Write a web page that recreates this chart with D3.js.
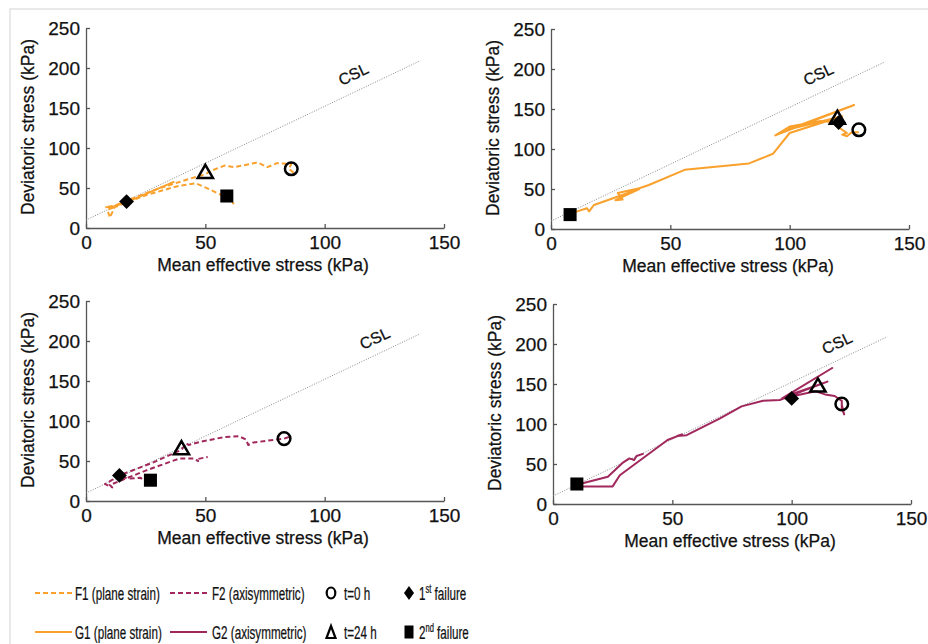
<!DOCTYPE html>
<html>
<head>
<meta charset="utf-8">
<script src="https://cdn.jsdelivr.net/npm/d3@7"></script>
<style>
  body { margin: 0; background: #fff; }
  svg text { font-family: "Liberation Sans", Arial, Helvetica, sans-serif; fill: #111; stroke: #111; stroke-width: 0.25px; }
</style>
</head>
<body>
<div id="chart"></div>
<script>
// ---- data (p' = mean effective stress, q = deviatoric stress, kPa) ----
const xTicks = [0, 50, 100, 150];
const yTicks = [0, 50, 100, 150, 200, 250];
const xTitle = "Mean effective stress (kPa)";
const yTitle = "Deviatoric stress (kPa)";

// critical state line end points
const cslLine = [[0, 10], [140, 209]];
// where the "CSL" label sits in each panel
const cslLabelPos = [[113, 186], [113, 187], [122, 197], [120, 195]];

// F1 (plane strain), dashed
const f1Path = [[87,69],[85,74],[86,80],[80,81],[76,76],[72,82],[62,76],[58,78],[52,71],[50,67],[44,62],
  [30,49],[17,34],[12,28],[8,26],[13,27],[9,23],[10,13],[12,26],[25,41],[38,52],[46,56],[52,48],[59,38],[62,30]];
const f1Dense = [[10,25],[20,36],[37,58]];

// G1 (plane strain), solid
const g1Path = [[129,121],[126,121],[124,116],[122,118],[124,120],[121,126],[120,133],[113,135],[100,128],
  [94,117],[127,155],[99,124],[122,141],[100,120],[93,94],[83,82],[56,74],[41,55],[37,51],[28,45],[30,37],
  [27,36],[37,50],[18,30],[17,26],[16,22],[15,26],[11,22],[8,19]];

// F2 (axisymmetric), dashed
const f2Path = [[85,80],[83,78],[80,77],[70,73],[68,70],[67,77],[64,81],[58,80],[48,74],[43,70],[42,72],
  [41,68],[40,64],[28,48],[14,32],[8,21],[11,17],[10,20],[25,38],[39,53],[45,53],[47,50],[46,52],[51,55]];
const f2Tail = [[15,30],[18,28],[23,29],[24,24]];

// G2 (axisymmetric), solid
const g2Path = [[121,124],[122,112],[121,120],[121,129],[118,135],[114,137],[110,141],[96,132],[117,170],
  [97,134],[115,153],[101,137],[95,130],[88,129],[79,122],[70,107],[56,86],[52,85],[54,87],[48,80],
  [28,36],[25,22],[8,22],[10,24],[23,34],[29,51],[32,57],[34,55],[35,60],[38,63]];

// markers, one per panel (top-left, top-right, bottom-left, bottom-right)
const t0Points    = [[86,74], [129,124], [83,78], [121,125]];
const t24Points   = [[50,68], [120,137], [40,64], [111,146]];
const fail1Points = [[17,33], [120.5,133], [14,32], [100,132]];
const fail2Points = [[59,40], [8,18], [27,26], [10,25]];

const legendLines = ["F1 (plane strain)", "G1 (plane strain)", "F2 (axisymmetric)", "G2 (axisymmetric)"];
const legendMarkers = ["t=0 h", "t=24 h"];
const legendFailures = [["1", "st", " failure"], ["2", "nd", " failure"]];

// ---- styles ----
const orange = "#F9A12C";
const purple = "#A1285C";
const dashed = "5,3";

const width = 928, height = 644;
const svg = d3.select("#chart").append("svg")
  .attr("width", width).attr("height", height);

// thin figure frame
svg.append("rect")
  .attr("x", 10).attr("y", 9).attr("width", 940).attr("height", 660)
  .attr("fill", "none").attr("stroke", "#d4d4d4").attr("stroke-width", 1);

const panels = [
  {left: 86,  top: 28,  series: [{d: f1Path, c: orange, dash: dashed}, {d: f1Dense, c: orange, dash: null}]},
  {left: 551, top: 29,  series: [{d: g1Path, c: orange, dash: null}]},
  {left: 86,  top: 301, series: [{d: f2Path, c: purple, dash: dashed}, {d: f2Tail, c: purple, dash: dashed}]},
  {left: 553, top: 304, series: [{d: g2Path, c: purple, dash: null}]}
];

const pw = 358, ph = 200;
const x = d3.scaleLinear().domain([0, 150]).range([0, pw]);
const y = d3.scaleLinear().domain([0, 250]).range([ph, 0]);
const line = d3.line().x(d => x(d[0])).y(d => y(d[1]));

const cslAngle = -Math.atan2(y(cslLine[0][1]) - y(cslLine[1][1]), x(cslLine[1][0]) - x(cslLine[0][0])) * 180 / Math.PI;

panels.forEach((pn, i) => {
  const g = svg.append("g").attr("transform", `translate(${pn.left},${pn.top})`);

  // axes
  const xAxis = d3.axisBottom(x).tickValues(xTicks).tickSizeInner(-4).tickSizeOuter(0).tickPadding(8);
  const yAxis = d3.axisLeft(y).tickValues(yTicks).tickSizeInner(-4).tickSizeOuter(0).tickPadding(6);
  const gx = g.append("g").attr("transform", `translate(0,${ph})`).call(xAxis);
  const gy = g.append("g").call(yAxis);
  [gx, gy].forEach(a => {
    a.select(".domain").attr("stroke", "#555").attr("stroke-width", 1.3);
    a.selectAll(".tick line").attr("stroke", "#555").attr("stroke-width", 1.3);
    a.selectAll(".tick text").attr("font-size", 19)
      .style("font-family", '"Liberation Sans", Arial, sans-serif');
  });

  g.append("text")
    .attr("x", pw / 2 - 2).attr("y", ph + 43)
    .attr("text-anchor", "middle").attr("font-size", 17.5)
    .text(xTitle);
  g.append("text")
    .attr("transform", `translate(-52,${ph / 2 - 1}) rotate(-90)`)
    .attr("text-anchor", "middle").attr("font-size", 17.5)
    .text(yTitle);

  // critical state line
  g.append("path")
    .attr("d", line(cslLine))
    .attr("fill", "none").attr("stroke", "#8a8a8a").attr("stroke-width", 1)
    .attr("stroke-dasharray", "1,1.5");
  const lp = cslLabelPos[i];
  g.append("text")
    .attr("transform", `translate(${x(lp[0])},${y(lp[1])}) rotate(${cslAngle})`)
    .attr("text-anchor", "middle").attr("font-size", 16)
    .text("CSL");

  // stress paths
  pn.series.forEach(s => {
    g.append("path")
      .attr("d", line(s.d))
      .attr("fill", "none").attr("stroke", s.c).attr("stroke-width", 2)
      .attr("stroke-linejoin", "round")
      .attr("stroke-dasharray", s.dash);
  });

  // markers
  const c = t0Points[i];
  g.append("circle").attr("cx", x(c[0])).attr("cy", y(c[1])).attr("r", 6.3)
    .attr("fill", "none").attr("stroke", "#000").attr("stroke-width", 2.5);
  const t = t24Points[i];
  g.append("path").attr("d", d3.symbol(d3.symbolTriangle, 100)())
    .attr("transform", `translate(${x(t[0])},${y(t[1])})`)
    .attr("fill", "none").attr("stroke", "#000").attr("stroke-width", 2.5);
  const f = fail1Points[i];
  g.append("path").attr("d", d3.symbol(d3.symbolSquare, 110)())
    .attr("transform", `translate(${x(f[0])},${y(f[1])}) rotate(45)`)
    .attr("fill", "#000");
  const s2 = fail2Points[i];
  g.append("path").attr("d", d3.symbol(d3.symbolSquare, 170)())
    .attr("transform", `translate(${x(s2[0])},${y(s2[1])})`)
    .attr("fill", "#000");
});

// ---- legend ----
const rowY = [593, 632];
const lineCols = [{x0: 35, x1: 72, tx: 75}, {x0: 170, x1: 207, tx: 212}];
const legendStyle = [
  {c: orange, dash: dashed}, {c: orange, dash: null},
  {c: purple, dash: dashed}, {c: purple, dash: null}
];
const leg = svg.append("g");
const legText = (tx, ty) => leg.append("text")
  .attr("transform", `translate(${tx},${ty + 6.5}) scale(0.63,1)`)
  .attr("font-size", 18.5);

legendLines.forEach((lbl, k) => {
  const col = lineCols[Math.floor(k / 2)], ry = rowY[k % 2], st = legendStyle[k];
  leg.append("line")
    .attr("x1", col.x0).attr("x2", col.x1).attr("y1", ry).attr("y2", ry)
    .attr("stroke", st.c).attr("stroke-width", 2.2).attr("stroke-dasharray", st.dash);
  legText(col.tx, ry).text(lbl);
});

legendMarkers.forEach((lbl, k) => {
  const ry = rowY[k];
  if (k === 0) {
    leg.append("ellipse").attr("cx", 331).attr("cy", ry).attr("rx", 4.3).attr("ry", 5.5)
      .attr("fill", "none").attr("stroke", "#000").attr("stroke-width", 2.2);
  } else {
    leg.append("path").attr("d", "M0,-6L4.5,6L-4.5,6Z")
      .attr("transform", `translate(331,${ry})`)
      .attr("fill", "none").attr("stroke", "#000").attr("stroke-width", 2.2).attr("stroke-linejoin", "miter");
  }
  legText(344, ry).text(lbl);
});

legendFailures.forEach((parts, k) => {
  const ry = rowY[k];
  if (k === 0) {
    leg.append("path").attr("d", "M0,-7L5,0L0,7L-5,0Z")
      .attr("transform", `translate(409,${ry})`).attr("fill", "#000");
  } else {
    leg.append("rect").attr("x", 404.5).attr("y", ry - 6.5).attr("width", 9).attr("height", 13)
      .attr("fill", "#000");
  }
  const t = legText(419, ry);
  t.append("tspan").text(parts[0]);
  t.append("tspan").attr("font-size", 12).attr("dy", -7).text(parts[1]);
  t.append("tspan").attr("dy", 7).text(parts[2]);
});
</script>
</body>
</html>
